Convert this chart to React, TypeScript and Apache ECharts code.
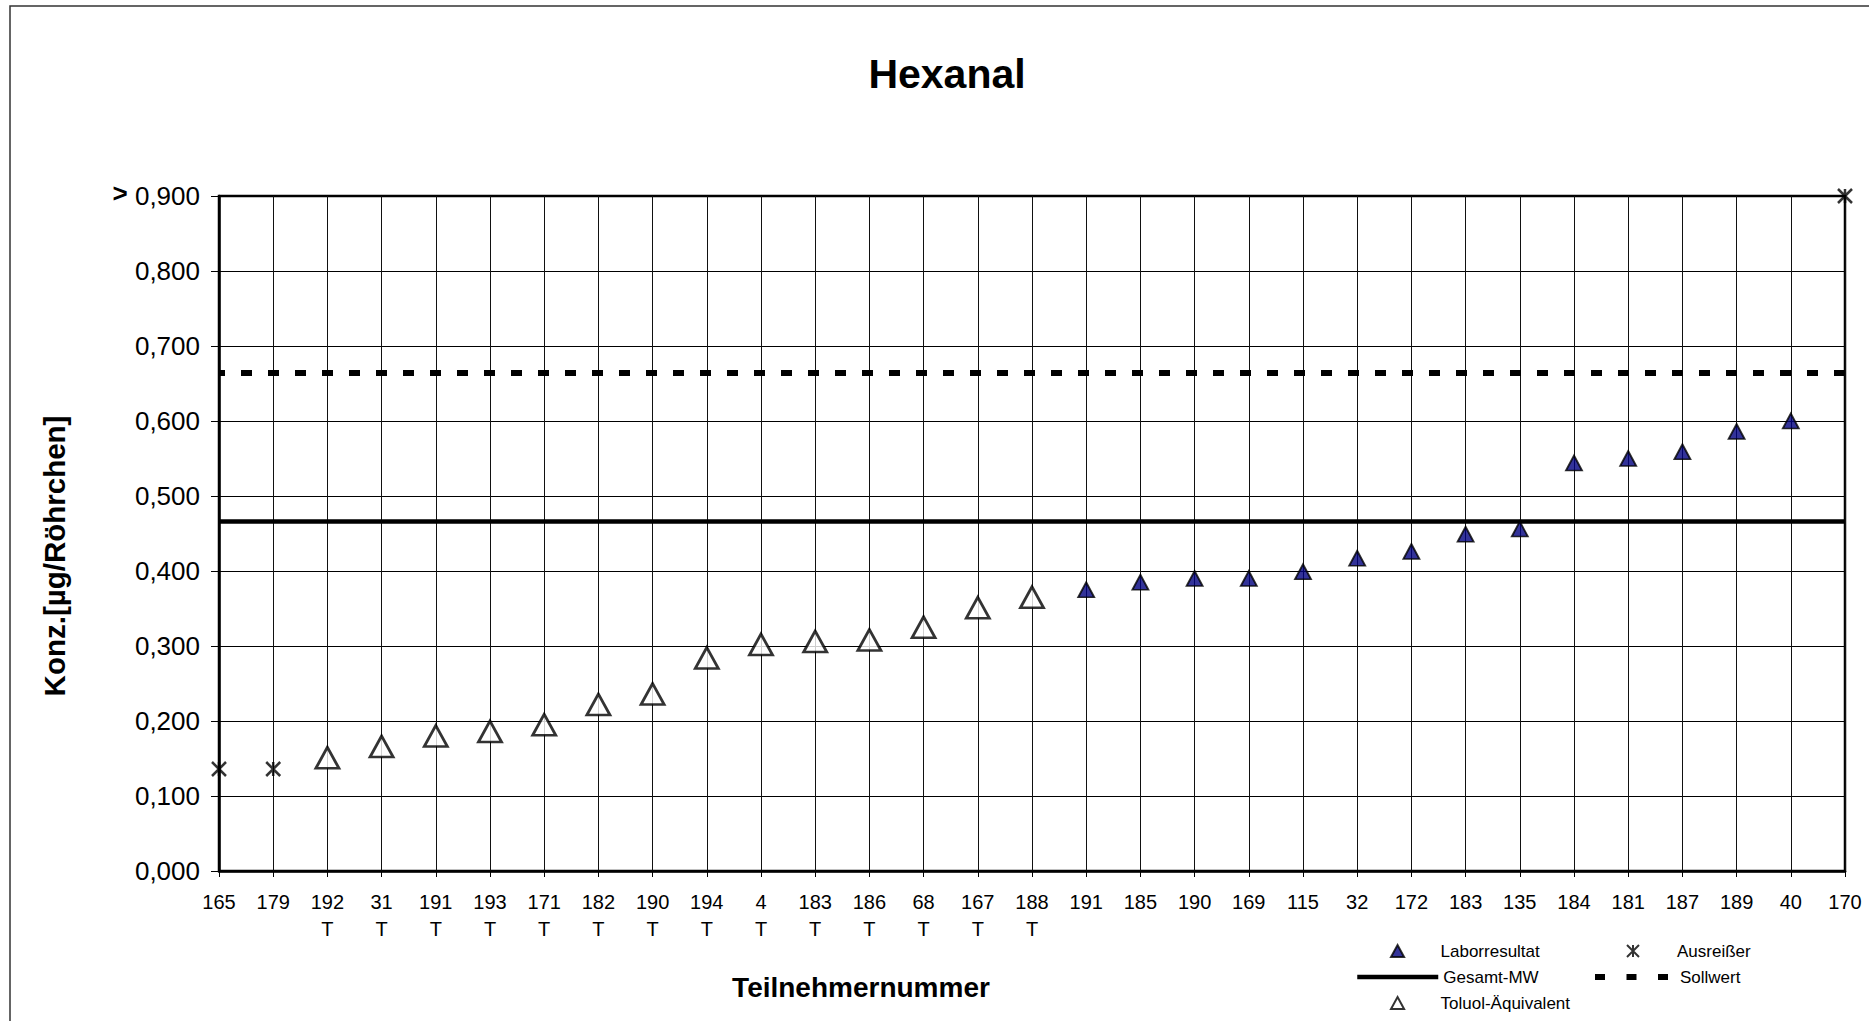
import React, { useEffect, useRef } from "react";
import * as echarts from "echarts";

const participants = ["165","179","192","31","191","193","171","182","190","194","4","183","186","68","167","188","191","185","190","169","115","32","172","183","135","184","181","187","189","40","170"];
const toluolFlags = [0,0,1,1,1,1,1,1,1,1,1,1,1,1,1,1,0,0,0,0,0,0,0,0,0,0,0,0,0,0,0];
const laborValues = [null,null,null,null,null,null,null,null,null,null,null,null,null,null,null,null,0.375,0.385,0.390,0.390,0.399,0.417,0.426,0.449,0.456,0.544,0.550,0.559,0.586,0.600,null];
const toluolValues = [null,null,0.151,0.166,0.180,0.186,0.195,0.222,0.236,0.284,0.302,0.306,0.308,0.325,0.351,0.365,null,null,null,null,null,null,null,null,null,null,null,null,null,null,null];
const outlierValues = [0.136,0.136,null,null,null,null,null,null,null,null,null,null,null,null,null,null,null,null,null,null,null,null,null,null,null,null,null,null,null,null,0.9];
const gesamtMW = 0.466;
const sollwert = 0.664;
const yMin = 0;
const yMax = 0.9;
const yStep = 0.1;

const FONT = "Liberation Sans, Arial, Helvetica, sans-serif";
const STAR = "path://M0,0L10,10M10,0L0,10M5,0L5,10";
const TRI = "path://M6,0L12,11L0,11Z";

const toPairs = (arr: (number | null)[]) =>
  arr.map((v, i) => (v == null ? null : [i, v])).filter((p) => p !== null);

export default function App() {
  const ref = useRef<HTMLDivElement>(null);
  useEffect(() => {
    if (!ref.current) return;
    const chart = echarts.init(ref.current, undefined, { renderer: "svg" });
    const axisLabels = participants.map((p, i) => (toluolFlags[i] ? p + "\nT" : p));
    const legendText = (padLeft: number) => ({
      fontSize: 17,
      color: "#000",
      fontFamily: FONT,
      lineHeight: 20,
      padding: [0, 0, 0, padLeft],
    });
    const legendCommon = {
      orient: "horizontal",
      padding: 0,
      selectedMode: false,
      itemHeight: 12,
    };
    chart.setOption({
      animation: false,
      backgroundColor: "#fff",
      textStyle: { fontFamily: FONT },
      title: {
        text: "Hexanal",
        left: 942,
        top: 48,
        textAlign: "center",
        textStyle: { fontSize: 41, fontWeight: "bold", color: "#000", fontFamily: FONT },
      },
      grid: {
        left: 219,
        right: 24,
        top: 196,
        bottom: 150,
        show: true,
        borderColor: "#000",
        borderWidth: 2.5,
      },
      legend: [
        {
          ...legendCommon,
          data: [{ name: "Laborresultat", icon: TRI }],
          left: 1390,
          top: 941,
          itemWidth: 14,
          textStyle: legendText(31),
        },
        {
          ...legendCommon,
          data: ["Gesamt-MW"],
          left: 1355,
          top: 967,
          itemWidth: 81,
          itemStyle: { opacity: 0 },
          lineStyle: { width: 4.5, color: "#000", type: "solid" },
          textStyle: legendText(0),
        },
        {
          ...legendCommon,
          data: [{ name: "Toluol-Äquivalent", icon: TRI }],
          left: 1390,
          top: 993,
          itemWidth: 14,
          textStyle: legendText(31),
        },
        {
          ...legendCommon,
          data: [{ name: "Ausreißer", icon: STAR }],
          left: 1626,
          top: 941,
          itemWidth: 14,
          textStyle: legendText(32),
        },
        {
          ...legendCommon,
          data: ["Sollwert"],
          left: 1592,
          top: 967,
          itemWidth: 73,
          itemStyle: { opacity: 0 },
          lineStyle: { width: 6, color: "#000", type: [10, 21.5] },
          textStyle: legendText(7),
        },
      ],
      xAxis: {
        type: "category",
        data: axisLabels,
        boundaryGap: false,
        axisLine: { show: true, lineStyle: { color: "#000", width: 2.5 } },
        axisTick: { show: true, length: 6, lineStyle: { color: "#000", width: 1 } },
        axisLabel: {
          interval: 0,
          margin: 17,
          fontSize: 20,
          lineHeight: 27,
          color: "#000",
          fontFamily: FONT,
        },
        splitLine: { show: true, lineStyle: { color: "#111", width: 1 } },
      },
      yAxis: {
        type: "value",
        min: yMin,
        max: yMax,
        interval: yStep,
        axisLine: { show: true, lineStyle: { color: "#000", width: 2.5 } },
        axisTick: { show: true, length: 8, lineStyle: { color: "#000", width: 1 } },
        axisLabel: {
          margin: 19,
          fontSize: 26,
          color: "#000",
          fontFamily: FONT,
          formatter: (v: number) => {
            const s = v.toFixed(3).replace(".", ",");
            return v >= yMax - 1e-9 ? "{gt|>} " + s : s;
          },
          rich: {
            gt: { fontSize: 26, fontWeight: "bold", color: "#000", fontFamily: FONT, padding: [0, 0, 6, 0] },
          },
        },
        splitLine: { show: true, lineStyle: { color: "#000", width: 1 } },
      },
      series: [
        {
          name: "Gesamt-MW",
          type: "line",
          data: [],
          symbol: "none",
          lineStyle: { color: "#000", width: 4.5, type: "solid" },
          itemStyle: { color: "#000" },
          z: 3,
          markLine: {
            silent: true,
            precision: 4,
            symbol: ["none", "none"],
            label: { show: false },
            lineStyle: { color: "#000", width: 4.5, type: "solid" },
            data: [{ yAxis: gesamtMW }],
          },
        },
        {
          name: "Sollwert",
          type: "line",
          data: [],
          symbol: "none",
          lineStyle: { color: "#000", width: 6, type: [11, 16] },
          itemStyle: { color: "#000" },
          z: 3,
          markLine: {
            silent: true,
            precision: 4,
            symbol: ["none", "none"],
            label: { show: false },
            lineStyle: { color: "#000", width: 6, type: [11, 16], dashOffset: 5 },
            data: [{ yAxis: sollwert }],
          },
        },
        {
          name: "Laborresultat",
          type: "scatter",
          data: toPairs(laborValues),
          symbol: "triangle",
          symbolSize: [16, 15],
          clip: false,
          itemStyle: { color: "#000080", borderColor: "#000", borderWidth: 1.8 },
          z: 5,
        },
        {
          name: "Toluol-Äquivalent",
          type: "scatter",
          data: toPairs(toluolValues),
          symbol: "triangle",
          symbolSize: [23, 21],
          clip: false,
          itemStyle: { color: "#fff", borderColor: "#000", borderWidth: 2.8 },
          z: 5,
        },
        {
          name: "Ausreißer",
          type: "scatter",
          data: toPairs(outlierValues),
          symbol: STAR,
          symbolSize: [14, 14],
          clip: false,
          itemStyle: { color: "transparent", borderColor: "#000", borderWidth: 2.5 },
          z: 5,
        },
      ],
      graphic: [
        {
          type: "rect",
          silent: true,
          z: -10,
          shape: { x: 10, y: 6, width: 1900, height: 1100 },
          style: { fill: "none", stroke: "#333", lineWidth: 1.5 },
        },
        {
          type: "text",
          x: 54,
          y: 556,
          rotation: Math.PI / 2,
          style: {
            text: "Konz.[µg/Röhrchen]",
            textAlign: "center",
            textVerticalAlign: "middle",
            fontSize: 29.5,
            fontWeight: "bold",
            fontFamily: FONT,
            fill: "#000",
          },
        },
        {
          type: "text",
          x: 861,
          y: 987,
          style: {
            text: "Teilnehmernummer",
            textAlign: "center",
            textVerticalAlign: "middle",
            fontSize: 28,
            fontWeight: "bold",
            fontFamily: FONT,
            fill: "#000",
          },
        },
      ],
    });
    return () => chart.dispose();
  }, []);
  return (
    <div
      ref={ref}
      style={{ position: "fixed", left: 0, top: 0, width: 1869, height: 1021, background: "#fff" }}
    />
  );
}
